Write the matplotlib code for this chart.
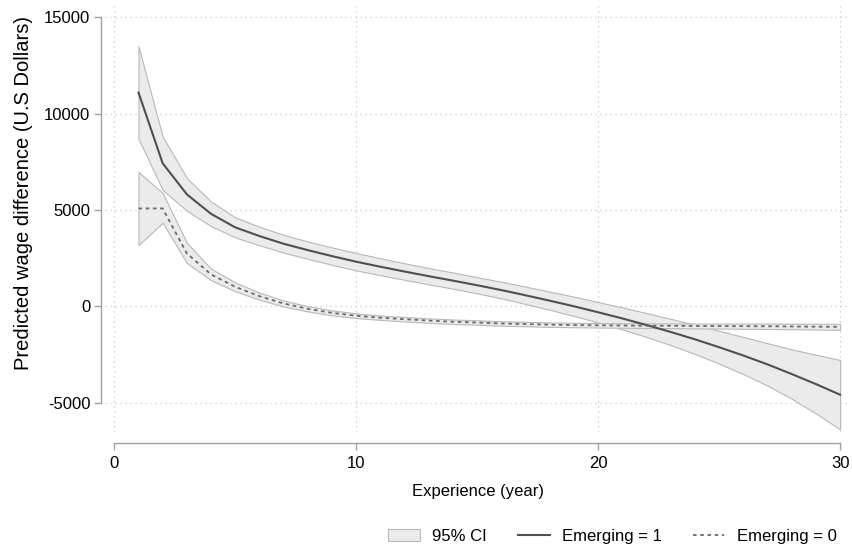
import matplotlib
matplotlib.use("Agg")
import matplotlib.pyplot as plt
from matplotlib.patches import Patch
from matplotlib.lines import Line2D

font_size = 12
params = {
    "font.size": font_size,
    "axes.labelsize": font_size,
    "xtick.labelsize": font_size,
    "ytick.labelsize": font_size,
    "legend.fontsize": font_size,
    "font.family": ["Liberation Sans", "DejaVu Sans"],
    "axes.unicode_minus": False,
}
matplotlib.rcParams.update(params)

## Data (predicted wage difference, US dollars)
experience = [1, 2, 3, 4, 5, 6, 7, 8, 9, 10, 11, 12, 13, 14, 15,
              16, 17, 18, 19, 20, 21, 22, 23, 24, 25, 26, 27, 28, 29, 30]

emerging_1 = [11090, 7420, 5810, 4800, 4100, 3650, 3250, 2920, 2610, 2320,
              2060, 1810, 1570, 1340, 1100, 850, 580, 300, 10, -300,
              -620, -960, -1320, -1700, -2110, -2540, -3000, -3500, -4020, -4570]
emerging_1_hi = [13490, 8800, 6660, 5440, 4620, 4130, 3710, 3370, 3060, 2770,
                 2500, 2240, 1990, 1760, 1520, 1280, 1030, 770, 510, 230,
                 -50, -340, -640, -940, -1260, -1580, -1900, -2220, -2500, -2770]
emerging_1_lo = [8690, 6040, 4960, 4160, 3580, 3170, 2790, 2470, 2160, 1870,
                 1620, 1380, 1150, 920, 680, 420, 130, -170, -490, -830,
                 -1190, -1580, -2000, -2460, -2960, -3500, -4100, -4780, -5540, -6370]

emerging_0 = [5080, 5080, 2750, 1660, 1020, 535, 155, -120, -330, -480,
              -580, -660, -730, -790, -830, -880, -910, -940, -960, -975,
              -985, -995, -1000, -1010, -1015, -1020, -1025, -1035, -1045, -1055]
emerging_0_hi = [6970, 5880, 3300, 1960, 1250, 720, 310, 15, -200, -360,
                 -465, -545, -615, -675, -715, -765, -795, -825, -845, -860,
                 -870, -875, -880, -885, -885, -885, -885, -890, -895, -900]
emerging_0_lo = [3180, 4340, 2250, 1360, 790, 350, 0, -255, -460, -600,
                 -695, -775, -845, -905, -945, -995, -1025, -1055, -1075, -1090,
                 -1100, -1115, -1120, -1135, -1145, -1155, -1165, -1180, -1195, -1210]

x_ticks = [0, 10, 20, 30]
y_ticks = [-5000, 0, 5000, 10000, 15000]

ci_face = "#ebebeb"
ci_edge = "#b8b8b8"
axis_grey = "#a0a0a0"

fig = plt.figure(figsize=(8.52, 5.46), dpi=100)
ax = fig.add_axes([0.1232, 0.2088, 0.8756, 0.7802])

## Confidence bands first, then the point estimates on top
ax.fill_between(experience, emerging_1_lo, emerging_1_hi, facecolor=ci_face, edgecolor=ci_edge, linewidth=0.8, zorder=2)
ax.fill_between(experience, emerging_0_lo, emerging_0_hi, facecolor=ci_face, edgecolor=ci_edge, linewidth=0.8, zorder=2)
ax.plot(experience, emerging_1, color="#505050", linewidth=1.5, zorder=3)
ax.plot(experience, emerging_0, color="#6a6a6a", linewidth=1.3, linestyle=(0, (2, 2)), zorder=3)

ax.set_xlim(-0.385, 30.45)
ax.set_ylim(-6503, 15570)
ax.set_xticks(x_ticks)
ax.set_yticks(y_ticks)
ax.set_yticklabels([str(v) for v in y_ticks])
ax.grid(True, color="#c8c8c8", linestyle=(0, (1, 3)), linewidth=0.9, zorder=0)
ax.set_axisbelow(True)

## Stata-like detached axes
for side in ["top", "right"]:
    ax.spines[side].set_visible(False)
ax.spines["left"].set_position(("outward", 3))
ax.spines["bottom"].set_position(("outward", 8))
ax.spines["left"].set_bounds(-5000, 15000)
ax.spines["bottom"].set_bounds(0, 30)
for side in ["left", "bottom"]:
    ax.spines[side].set_color(axis_grey)
    ax.spines[side].set_linewidth(1.0)
ax.tick_params(colors=axis_grey, labelcolor="black", length=5, width=1.0)
ax.tick_params(axis="y", pad=2.5)
ax.tick_params(axis="x", pad=4.5)

ax.set_xlabel("Experience (year)")
ax.set_ylabel("Predicted wage difference (U.S Dollars)", fontsize=14.5)
ax.xaxis.set_label_coords(0.5, -0.122)
ax.yaxis.set_label_coords(-0.097, 0.562)

handles = [
    Patch(facecolor=ci_face, edgecolor=ci_edge, linewidth=0.8),
    Line2D([], [], color="#505050", linewidth=1.5),
    Line2D([], [], color="#6a6a6a", linewidth=1.3, linestyle=(0, (2, 2))),
]
labels = ["95% CI", "Emerging = 1", "Emerging = 0"]
fig.legend(handles, labels, ncol=3, frameon=False, loc="center right",
           bbox_to_anchor=(0.99, 0.018), handlelength=1.9, handletextpad=0.75,
           columnspacing=1.85, borderaxespad=0)

plt.savefig("out.png", dpi=100)
plt.close()
